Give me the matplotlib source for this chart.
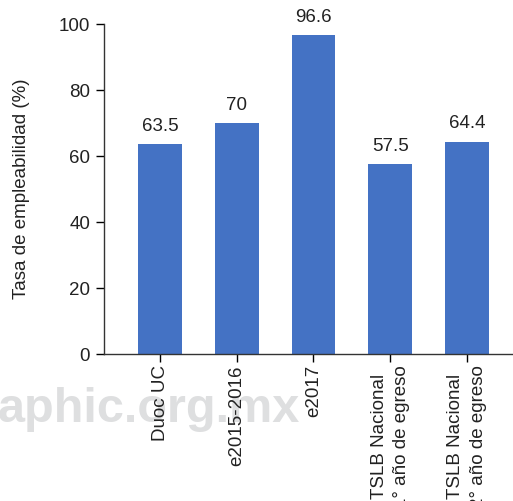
import matplotlib.pyplot as plt

categories = ['Duoc UC', 'e2015-2016', 'e2017',
              'TSLB Nacional\n1° año de egreso', 'TSLB Nacional\n2° año de egreso']
values = [63.5, 70, 96.6, 57.5, 64.4]
value_labels = ['63.5', '70', '96.6', '57.5', '64.4']
yticks = [0, 20, 40, 60, 80, 100]

plt.rcParams['font.family'] = ['Liberation Sans', 'DejaVu Sans']
txt = '#222222'

fig = plt.figure(figsize=(5.13, 5.01), dpi=100)
ax = fig.add_axes([0.2027, 0.2934, 0.7973, 0.6586])

# marca de agua, detras de todo
fig.text(-0.004, 0.158, 'aphic.org.mx', fontsize=35, fontweight='bold',
         color='#dedfe0', ha='left', va='baseline', zorder=-1)

x = range(len(categories))
bars = ax.bar(x, values, width=0.57, color='#4472c4', zorder=2)
for b, lab in zip(bars, value_labels):
    ax.text(b.get_x() + b.get_width() / 2, b.get_height() + 2.8, lab,
            ha='center', va='bottom', fontsize=13.5, color=txt)

ax.set_xlim(-0.73, 4.6)
ax.set_ylim(0, 100)
ax.set_yticks(yticks)
ax.set_xticks(list(x))
ax.set_xticklabels(categories, rotation=90, fontsize=13.5, linespacing=1.4,
                   va='top', ha='center', color=txt)
ax.tick_params(axis='y', labelsize=13.5, labelcolor=txt, length=6, width=1, pad=4)
ax.tick_params(axis='x', length=6, width=1, pad=2)
ax.set_ylabel('Tasa de empleabilidad (%)', fontsize=13.5, color=txt, labelpad=21)

for s in ['top', 'right']:
    ax.spines[s].set_visible(False)
for s in ['left', 'bottom']:
    ax.spines[s].set_linewidth(1)
    ax.spines[s].set_color('#333333')
ax.patch.set_alpha(0)

fig.savefig('out.png', dpi=100)
